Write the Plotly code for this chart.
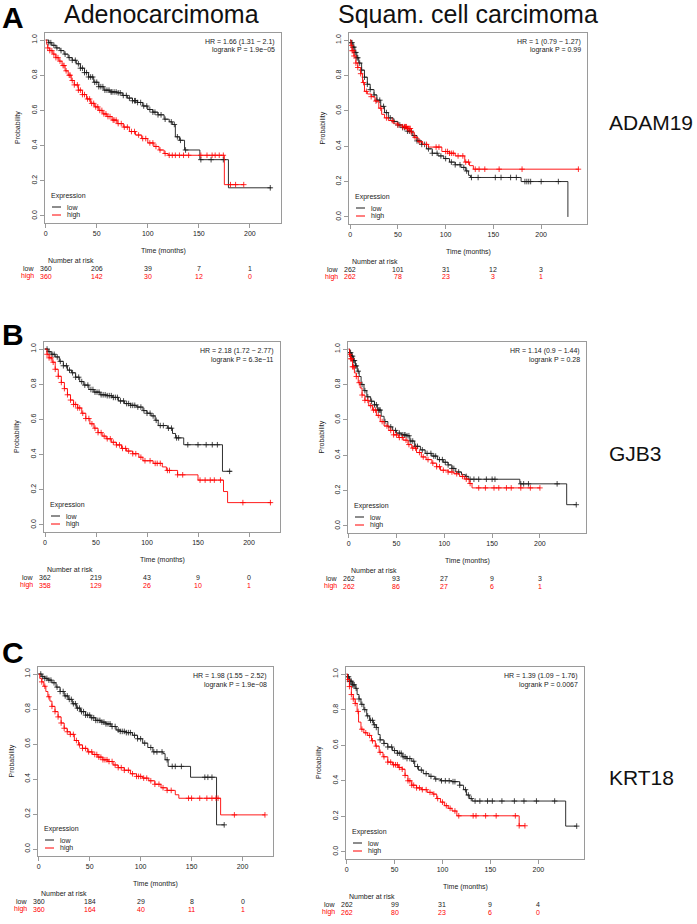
import numpy as np
import plotly.graph_objects as go

W, H = 697, 924
FONT = "Liberation Sans, Arial, sans-serif"
RED = "#ff0000"
BLK = "#1a1a1a"
FRAME = "#9a9a9a"

# ---------------- ADAM19 / adenocarcinoma
adam_ad_low_t = [0, 3, 6, 10, 14, 18, 22, 26, 30, 34, 38, 42, 47, 52, 57, 63, 70, 75, 80, 85, 90, 95, 100, 105, 110, 116, 121, 124, 127, 131, 136, 151, 179, 221]
adam_ad_low_p = [1.0, 0.985, 0.97, 0.955, 0.94, 0.92, 0.90, 0.885, 0.865, 0.84, 0.815, 0.79, 0.76, 0.735, 0.715, 0.705, 0.70, 0.685, 0.67, 0.655, 0.645, 0.625, 0.605, 0.59, 0.575, 0.55, 0.535, 0.52, 0.45, 0.43, 0.375, 0.32, 0.16, 0.16]
adam_ad_low_cens = [3, 5, 8, 11, 15, 19, 23, 26, 29, 32, 34, 36, 38, 40, 42, 44, 46, 48, 50, 52, 54, 56, 58, 60, 62, 64, 65, 67, 69, 71, 73, 76, 79, 82, 85, 87, 88, 90, 93, 96, 99, 102, 105, 107, 110, 113, 117, 123, 126, 129, 132, 137, 152, 162, 174, 220]
adam_ad_high_t = [0, 1, 2, 4, 7, 10, 13, 16, 19, 22, 25, 28, 32, 36, 40, 44, 48, 52, 56, 60, 65, 70, 76, 82, 88, 94, 100, 106, 111, 116, 120, 175, 194]
adam_ad_high_p = [1.0, 0.975, 0.955, 0.94, 0.92, 0.90, 0.88, 0.855, 0.825, 0.80, 0.77, 0.745, 0.715, 0.69, 0.665, 0.64, 0.62, 0.60, 0.58, 0.565, 0.545, 0.525, 0.505, 0.48, 0.46, 0.44, 0.415, 0.395, 0.375, 0.355, 0.345, 0.178, 0.178]
adam_ad_high_cens = [2, 4, 6, 8, 10, 12, 14, 17, 18, 20, 23, 24, 26, 28, 31, 32, 34, 36, 38, 41, 43, 45, 47, 49, 51, 53, 55, 57, 59, 61, 63, 66, 67, 69, 71, 74, 77, 80, 84, 87, 91, 95, 98, 102, 105, 108, 112, 117, 121, 124, 127, 131, 135, 140, 152, 158, 163, 166, 170, 174, 181, 186, 194]

# ---------------- ADAM19 / squamous
adam_sq_low_t = [0, 1, 3, 5, 7, 9, 12, 15, 18, 21, 25, 28, 32, 36, 40, 45, 50, 55, 60, 65, 70, 75, 80, 86, 92, 98, 104, 110, 116, 121, 124, 126, 179, 228]
adam_sq_low_p = [1.0, 0.985, 0.96, 0.93, 0.90, 0.87, 0.83, 0.79, 0.75, 0.72, 0.69, 0.66, 0.625, 0.59, 0.56, 0.54, 0.52, 0.505, 0.485, 0.46, 0.43, 0.41, 0.385, 0.36, 0.345, 0.33, 0.31, 0.295, 0.28, 0.26, 0.235, 0.223, 0.2, 0.0]
adam_sq_low_cens = [1, 2, 3, 4, 5, 6, 7, 8, 10, 12, 15, 18, 21, 25, 28, 31, 35, 38, 42, 46, 50, 52, 55, 57, 60, 62, 64, 67, 70, 72, 75, 78, 82, 86, 91, 95, 100, 106, 110, 115, 119, 122, 127, 134, 152, 158, 168, 174, 183, 185, 187, 189, 200, 218]
adam_sq_high_t = [0, 1, 2, 4, 6, 8, 11, 13, 15, 18, 22, 26, 30, 33, 36, 40, 45, 50, 55, 60, 64, 67, 71, 76, 82, 96, 104, 110, 120, 125, 129, 239]
adam_sq_high_p = [1.0, 0.97, 0.94, 0.91, 0.87, 0.845, 0.81, 0.76, 0.71, 0.695, 0.68, 0.655, 0.615, 0.58, 0.56, 0.545, 0.53, 0.52, 0.51, 0.50, 0.48, 0.45, 0.425, 0.41, 0.395, 0.37, 0.36, 0.345, 0.31, 0.29, 0.27, 0.27]
adam_sq_high_cens = [1, 2, 3, 4, 6, 8, 11, 14, 17, 22, 27, 32, 38, 44, 50, 55, 57, 58, 59, 60, 61, 62, 63, 64, 68, 73, 80, 90, 93, 100, 102, 104, 106, 108, 113, 118, 121, 124, 131, 135, 141, 156, 180, 239]

# ---------------- GJB3 / adenocarcinoma
gjb_ad_low_t = [0, 3, 6, 10, 14, 18, 22, 26, 30, 34, 38, 43, 48, 54, 60, 66, 72, 78, 84, 90, 96, 100, 104, 108, 111, 120, 125, 128, 136, 174, 183]
gjb_ad_low_p = [1.0, 0.985, 0.97, 0.955, 0.93, 0.905, 0.88, 0.865, 0.84, 0.815, 0.795, 0.77, 0.755, 0.74, 0.735, 0.725, 0.705, 0.69, 0.68, 0.67, 0.65, 0.635, 0.62, 0.595, 0.565, 0.55, 0.52, 0.495, 0.456, 0.305, 0.305]
gjb_ad_low_cens = [2, 4, 7, 9, 12, 15, 18, 21, 24, 27, 30, 33, 36, 39, 42, 45, 47, 49, 51, 53, 55, 57, 59, 61, 63, 65, 67, 69, 71, 74, 77, 80, 82, 84, 86, 88, 91, 94, 97, 100, 103, 106, 109, 113, 116, 121, 124, 129, 131, 140, 150, 158, 164, 169, 181]
gjb_ad_high_t = [0, 2, 4, 7, 10, 13, 16, 19, 22, 25, 28, 32, 36, 40, 44, 48, 52, 56, 60, 65, 70, 75, 80, 86, 92, 96, 106, 115, 119, 130, 150, 175, 179, 222]
gjb_ad_high_p = [1.0, 0.97, 0.95, 0.925, 0.885, 0.845, 0.81, 0.775, 0.74, 0.71, 0.685, 0.665, 0.635, 0.605, 0.575, 0.55, 0.525, 0.505, 0.49, 0.47, 0.455, 0.435, 0.42, 0.405, 0.385, 0.365, 0.35, 0.33, 0.31, 0.285, 0.255, 0.19, 0.127, 0.127]
gjb_ad_high_cens = [2, 4, 6, 8, 10, 13, 16, 19, 22, 25, 28, 30, 32, 34, 37, 40, 43, 46, 49, 52, 55, 58, 61, 64, 67, 70, 73, 76, 79, 82, 86, 89, 94, 98, 103, 108, 110, 113, 120, 122, 130, 135, 152, 157, 162, 166, 172, 194, 221]

# ---------------- GJB3 / squamous
gjb_sq_low_t = [0, 1, 3, 5, 7, 9, 11, 13, 16, 19, 23, 27, 30, 34, 37, 41, 46, 50, 55, 60, 64, 69, 75, 80, 87, 93, 99, 104, 108, 112, 118, 122, 125, 179, 228, 238]
gjb_sq_low_p = [1.0, 0.98, 0.96, 0.935, 0.905, 0.875, 0.845, 0.80, 0.765, 0.73, 0.705, 0.685, 0.655, 0.62, 0.59, 0.56, 0.54, 0.525, 0.515, 0.51, 0.48, 0.45, 0.43, 0.41, 0.395, 0.375, 0.36, 0.345, 0.325, 0.305, 0.29, 0.28, 0.264, 0.238, 0.12, 0.12]
gjb_sq_low_cens = [1, 2, 3, 4, 5, 6, 7, 8, 10, 14, 17, 20, 24, 27, 29, 31, 32, 33, 38, 44, 49, 53, 56, 58, 59, 61, 63, 65, 67, 70, 72, 77, 82, 86, 89, 91, 95, 98, 101, 104, 108, 110, 115, 123, 127, 131, 136, 144, 150, 153, 180, 183, 188, 218, 238]
gjb_sq_high_t = [0, 1, 2, 4, 6, 8, 10, 12, 14, 17, 21, 25, 29, 33, 37, 42, 47, 52, 57, 62, 66, 71, 76, 81, 87, 92, 96, 104, 110, 116, 121, 126, 129, 200]
gjb_sq_high_p = [1.0, 0.97, 0.945, 0.90, 0.865, 0.845, 0.81, 0.78, 0.74, 0.71, 0.68, 0.655, 0.625, 0.59, 0.565, 0.54, 0.515, 0.50, 0.485, 0.46, 0.44, 0.415, 0.39, 0.375, 0.355, 0.335, 0.315, 0.305, 0.295, 0.28, 0.265, 0.24, 0.215, 0.215]
gjb_sq_high_cens = [1, 2, 3, 4, 5, 8, 11, 14, 17, 20, 23, 26, 28, 31, 35, 40, 44, 47, 50, 53, 56, 60, 63, 67, 70, 74, 78, 83, 88, 92, 95, 99, 104, 108, 113, 119, 123, 127, 136, 143, 152, 157, 165, 170, 180, 190, 200]

# ---------------- KRT18 / adenocarcinoma
krt_ad_low_t = [0, 3, 6, 9, 13, 17, 21, 25, 29, 33, 37, 41, 46, 51, 56, 61, 66, 71, 76, 80, 86, 92, 97, 102, 107, 112, 122, 124, 127, 149, 174.5, 182]
krt_ad_low_p = [1.0, 0.985, 0.975, 0.965, 0.95, 0.925, 0.90, 0.875, 0.855, 0.83, 0.805, 0.785, 0.765, 0.75, 0.735, 0.725, 0.715, 0.70, 0.68, 0.672, 0.665, 0.65, 0.63, 0.605, 0.58, 0.555, 0.545, 0.51, 0.472, 0.41, 0.138, 0.138]
krt_ad_low_cens = [2, 4, 6, 8, 10, 12, 15, 18, 21, 24, 26, 28, 30, 32, 34, 36, 38, 40, 42, 44, 46, 48, 50, 52, 54, 56, 58, 60, 62, 64, 66, 68, 70, 72, 75, 78, 80, 82, 84, 86, 88, 90, 94, 97, 100, 104, 110, 113, 116, 121, 126, 131, 134, 140, 163, 166, 170, 182]
krt_ad_high_t = [0, 1, 3, 5, 7, 9, 11, 13, 16, 19, 22, 25, 28, 31, 35, 39, 43, 48, 53, 58, 63, 68, 73, 78, 84, 90, 96, 102, 108, 114, 120, 126, 134, 137.5, 178.5, 222]
krt_ad_high_p = [1.0, 0.975, 0.955, 0.93, 0.90, 0.87, 0.845, 0.815, 0.785, 0.755, 0.72, 0.69, 0.67, 0.655, 0.62, 0.595, 0.575, 0.555, 0.54, 0.525, 0.51, 0.50, 0.48, 0.465, 0.45, 0.43, 0.415, 0.405, 0.39, 0.37, 0.35, 0.335, 0.31, 0.29, 0.195, 0.195]
krt_ad_high_cens = [3, 6, 10, 13, 16, 19, 22, 25, 28, 31, 34, 37, 40, 43, 46, 49, 52, 55, 57, 59, 61, 63, 65, 67, 69, 72, 75, 78, 81, 84, 88, 92, 96, 98, 100, 103, 106, 110, 114, 118, 122, 126, 130, 147, 150, 158, 165, 170, 174, 176, 192, 222]

# ---------------- KRT18 / squamous
krt_sq_low_t = [0, 1, 3, 6, 9, 11, 13, 15, 18, 21, 24, 28, 31, 33, 35, 39, 43, 48, 53, 58, 63, 68, 71, 75, 80, 86, 92, 98, 110, 118, 122, 125, 128, 131, 228.5, 240]
krt_sq_low_p = [1.0, 0.985, 0.96, 0.94, 0.92, 0.885, 0.86, 0.83, 0.80, 0.765, 0.74, 0.715, 0.70, 0.66, 0.63, 0.61, 0.59, 0.57, 0.555, 0.535, 0.525, 0.51, 0.48, 0.46, 0.44, 0.425, 0.41, 0.40, 0.395, 0.375, 0.35, 0.32, 0.30, 0.286, 0.145, 0.145]
krt_sq_low_cens = [1, 2, 3, 4, 5, 6, 7, 8, 10, 13, 16, 19, 22, 25, 27, 29, 31, 35, 39, 43, 47, 50, 53, 55, 57, 59, 61, 63, 66, 70, 74, 78, 83, 88, 93, 99, 103, 107, 111, 113, 118, 124, 127, 130, 134, 139, 147, 152, 162, 175, 185, 198, 217, 240]
krt_sq_high_t = [0, 1, 3, 5, 7, 9, 11, 12.5, 15, 18, 22, 26, 30, 34, 38, 43, 48, 54, 58, 61, 64, 68, 73, 78, 84, 90, 94, 98, 102, 106, 110, 115, 180, 186]
krt_sq_high_p = [1.0, 0.97, 0.93, 0.885, 0.86, 0.835, 0.79, 0.73, 0.69, 0.67, 0.655, 0.625, 0.595, 0.56, 0.535, 0.505, 0.49, 0.475, 0.465, 0.43, 0.40, 0.375, 0.36, 0.35, 0.335, 0.325, 0.30, 0.28, 0.26, 0.245, 0.23, 0.203, 0.147, 0.147]
krt_sq_high_cens = [1, 3, 5, 7, 9, 12, 16, 20, 24, 27, 31, 35, 39, 43, 46, 49, 51, 53, 55, 58, 61, 64, 66, 68, 70, 73, 76, 79, 83, 87, 91, 95, 100, 104, 108, 113, 117, 132, 135, 145, 156, 176, 180, 186]

# number at risk (at 0, 50, 100, 150, 200 months)
risk_times = [0, 50, 100, 150, 200]
adam_ad_risk_low = [360, 206, 39, 7, 1]
adam_ad_risk_high = [360, 142, 30, 12, 0]
adam_sq_risk_low = [262, 101, 31, 12, 3]
adam_sq_risk_high = [262, 78, 23, 3, 1]
gjb_ad_risk_low = [362, 219, 43, 9, 0]
gjb_ad_risk_high = [358, 129, 26, 10, 1]
gjb_sq_risk_low = [262, 93, 27, 9, 3]
gjb_sq_risk_high = [262, 86, 27, 6, 1]
krt_ad_risk_low = [360, 184, 29, 8, 0]
krt_ad_risk_high = [360, 164, 40, 11, 1]
krt_sq_risk_low = [262, 99, 31, 9, 4]
krt_sq_risk_high = [262, 80, 23, 6, 0]

hr_texts = ["HR = 1.66 (1.31 \u2212 2.1)", "HR = 1 (0.79 \u2212 1.27)",
            "HR = 2.18 (1.72 \u2212 2.77)", "HR = 1.14 (0.9 \u2212 1.44)",
            "HR = 1.98 (1.55 \u2212 2.52)", "HR = 1.39 (1.09 \u2212 1.76)"]
p_texts = ["logrank P = 1.9e\u221205", "logrank P = 0.99",
           "logrank P = 6.3e\u221211", "logrank P = 0.28",
           "logrank P = 1.9e\u221208", "logrank P = 0.0067"]

col_titles = ["Adenocarcimoma", "Squam. cell carcimoma"]
genes = ["ADAM19", "GJB3", "KRT18"]
letters = ["A", "B", "C"]

# panel boxes in pixels: left, right, top, bottom
panels = [
    dict(box=(45, 281, 33, 223), xr=[-0.7, 230.5], low=(adam_ad_low_t, adam_ad_low_p, adam_ad_low_cens),
         high=(adam_ad_high_t, adam_ad_high_p, adam_ad_high_cens), risk=(adam_ad_risk_low, adam_ad_risk_high)),
    dict(box=(349, 587, 33, 224), xr=[-1.2, 248], low=(adam_sq_low_t, adam_sq_low_p, adam_sq_low_cens),
         high=(adam_sq_high_t, adam_sq_high_p, adam_sq_high_cens), risk=(adam_sq_risk_low, adam_sq_risk_high)),
    dict(box=(44, 280, 342, 532), xr=[-1, 230.4], low=(gjb_ad_low_t, gjb_ad_low_p, gjb_ad_low_cens),
         high=(gjb_ad_high_t, gjb_ad_high_p, gjb_ad_high_cens), risk=(gjb_ad_risk_low, gjb_ad_risk_high)),
    dict(box=(348, 586, 342, 533), xr=[-0.7, 248.2], low=(gjb_sq_low_t, gjb_sq_low_p, gjb_sq_low_cens),
         high=(gjb_sq_high_t, gjb_sq_high_p, gjb_sq_high_cens), risk=(gjb_sq_risk_low, gjb_sq_risk_high)),
    dict(box=(38, 273, 667, 856), xr=[-0.7, 229.9], low=(krt_ad_low_t, krt_ad_low_p, krt_ad_low_cens),
         high=(krt_ad_high_t, krt_ad_high_p, krt_ad_high_cens), risk=(krt_ad_risk_low, krt_ad_risk_high)),
    dict(box=(346, 584, 667, 859), xr=[-0.6, 247.6], low=(krt_sq_low_t, krt_sq_low_p, krt_sq_low_cens),
         high=(krt_sq_high_t, krt_sq_high_p, krt_sq_high_cens), risk=(krt_sq_risk_low, krt_sq_risk_high)),
]


def px(x):
    return x / W


def py(y):
    return 1 - y / H


def step_at(t, p, c):
    idx = np.searchsorted(np.array(t), np.array(c), side="right") - 1
    return np.array(p)[idx]


fig = go.Figure()
annotations = []
shapes = []
small = dict(family=FONT, size=7, color="#222")

for i, pan in enumerate(panels):
    n = "" if i == 0 else str(i + 1)
    xa, ya = "x" + n, "y" + n
    l, r, t, b = pan["box"]

    for grp, col in (("low", BLK), ("high", RED)):
        tt, pp, cc = pan[grp]
        fig.add_trace(go.Scatter(x=tt, y=pp, mode="lines", line=dict(color=col, width=0.9, shape="hv"),
                                 xaxis=xa, yaxis=ya, hoverinfo="skip", showlegend=False))
        fig.add_trace(go.Scatter(x=cc, y=step_at(tt, pp, cc), mode="markers",
                                 marker=dict(symbol="cross-thin", size=4, line=dict(color=col, width=0.8)),
                                 xaxis=xa, yaxis=ya, hoverinfo="skip", showlegend=False))

    fig.update_layout(**{
        "xaxis" + n: dict(domain=[px(l), px(r)], range=pan["xr"], anchor=ya,
                          tickvals=[0, 50, 100, 150, 200], ticks="outside", ticklen=4, tickcolor=FRAME,
                          showline=True, mirror=True, linecolor=FRAME, linewidth=1,
                          showgrid=False, zeroline=False, tickfont=small),
        "yaxis" + n: dict(domain=[py(b), py(t)], range=[-0.04, 1.04], anchor=xa,
                          tickvals=[0, 0.2, 0.4, 0.6, 0.8, 1.0],
                          ticktext=["0.0", "0.2", "0.4", "0.6", "0.8", "1.0"], tickangle=-90,
                          ticks="outside", ticklen=4, tickcolor=FRAME,
                          showline=True, mirror=True, linecolor=FRAME, linewidth=1,
                          showgrid=False, zeroline=False, tickfont=small),
    })

    # HR / logrank text
    annotations.append(dict(x=px(r - 4), y=py(t + 9), xref="paper", yref="paper", text=hr_texts[i],
                            xanchor="right", yanchor="middle", showarrow=False, font=small))
    annotations.append(dict(x=px(r - 4), y=py(t + 17.5), xref="paper", yref="paper", text=p_texts[i],
                            xanchor="right", yanchor="middle", showarrow=False, font=small))

    # legend
    annotations.append(dict(x=px(l + 4), y=py(b - 27), xref="paper", yref="paper", text="Expression",
                            xanchor="left", yanchor="middle", showarrow=False, font=small))
    for k, (lab, col) in enumerate((("low", BLK), ("high", RED))):
        yy = b - 16 + 8 * k
        shapes.append(dict(type="line", xref="paper", yref="paper", x0=px(l + 7), x1=px(l + 16),
                           y0=py(yy), y1=py(yy), line=dict(color=col, width=1)))
        annotations.append(dict(x=px(l + 20), y=py(yy), xref="paper", yref="paper", text=lab,
                                xanchor="left", yanchor="middle", showarrow=False, font=small))

    # axis titles
    annotations.append(dict(x=px((l + r) / 2), y=py(b + 28), xref="paper", yref="paper", text="Time (months)",
                            xanchor="center", yanchor="middle", showarrow=False, font=small))
    annotations.append(dict(x=px(l - 27), y=py((t + b) / 2), xref="paper", yref="paper", text="Probability",
                            textangle=-90, xanchor="center", yanchor="middle", showarrow=False, font=small))

    # number at risk table
    annotations.append(dict(x=px(l + 1), y=py(b + 37), xref="paper", yref="paper", text="Number at risk",
                            xanchor="left", yanchor="middle", showarrow=False, font=small))
    for k, (lab, col) in enumerate((("low", "#222"), ("high", RED))):
        yy = b + 45 + 8 * k
        annotations.append(dict(x=px(l - 9), y=py(yy), xref="paper", yref="paper", text=lab,
                                xanchor="right", yanchor="middle", showarrow=False,
                                font=dict(family=FONT, size=7, color=col)))
        for tv, v in zip(risk_times, pan["risk"][k]):
            annotations.append(dict(x=tv, y=py(yy), xref=xa, yref="paper", text=str(v),
                                    xanchor="center", yanchor="middle", showarrow=False,
                                    font=dict(family=FONT, size=7, color=col)))

# column titles, panel letters, gene names
big = dict(family=FONT, size=25, color="#111")
annotations.append(dict(x=px(161), y=py(14), xref="paper", yref="paper", text=col_titles[0],
                        showarrow=False, xanchor="center", yanchor="middle", font=big))
annotations.append(dict(x=px(468), y=py(14), xref="paper", yref="paper", text=col_titles[1],
                        showarrow=False, xanchor="center", yanchor="middle", font=big))
for lab, yy in zip(letters, [0, 317, 635]):
    annotations.append(dict(x=px(13), y=py(yy), xref="paper", yref="paper", text="<b>%s</b>" % lab,
                            showarrow=False, xanchor="center", yanchor="top", borderpad=0,
                            font=dict(family=FONT, size=30, color="#000")))
for g, yy in zip(genes, [123, 453, 777]):
    annotations.append(dict(x=px(607), y=py(yy), xref="paper", yref="paper", text=g,
                            showarrow=False, xanchor="left", yanchor="middle",
                            font=dict(family=FONT, size=21, color="#111")))

fig.update_layout(width=W, height=H, margin=dict(l=0, r=0, t=0, b=0),
                  paper_bgcolor="white", plot_bgcolor="white", showlegend=False,
                  annotations=annotations, shapes=shapes)

# page body has a default 8px margin; drop it so the figure sits at the window's corner
fig.write_html("out.html", config={"displayModeBar": False},
               post_script="document.body.style.margin='0';")
